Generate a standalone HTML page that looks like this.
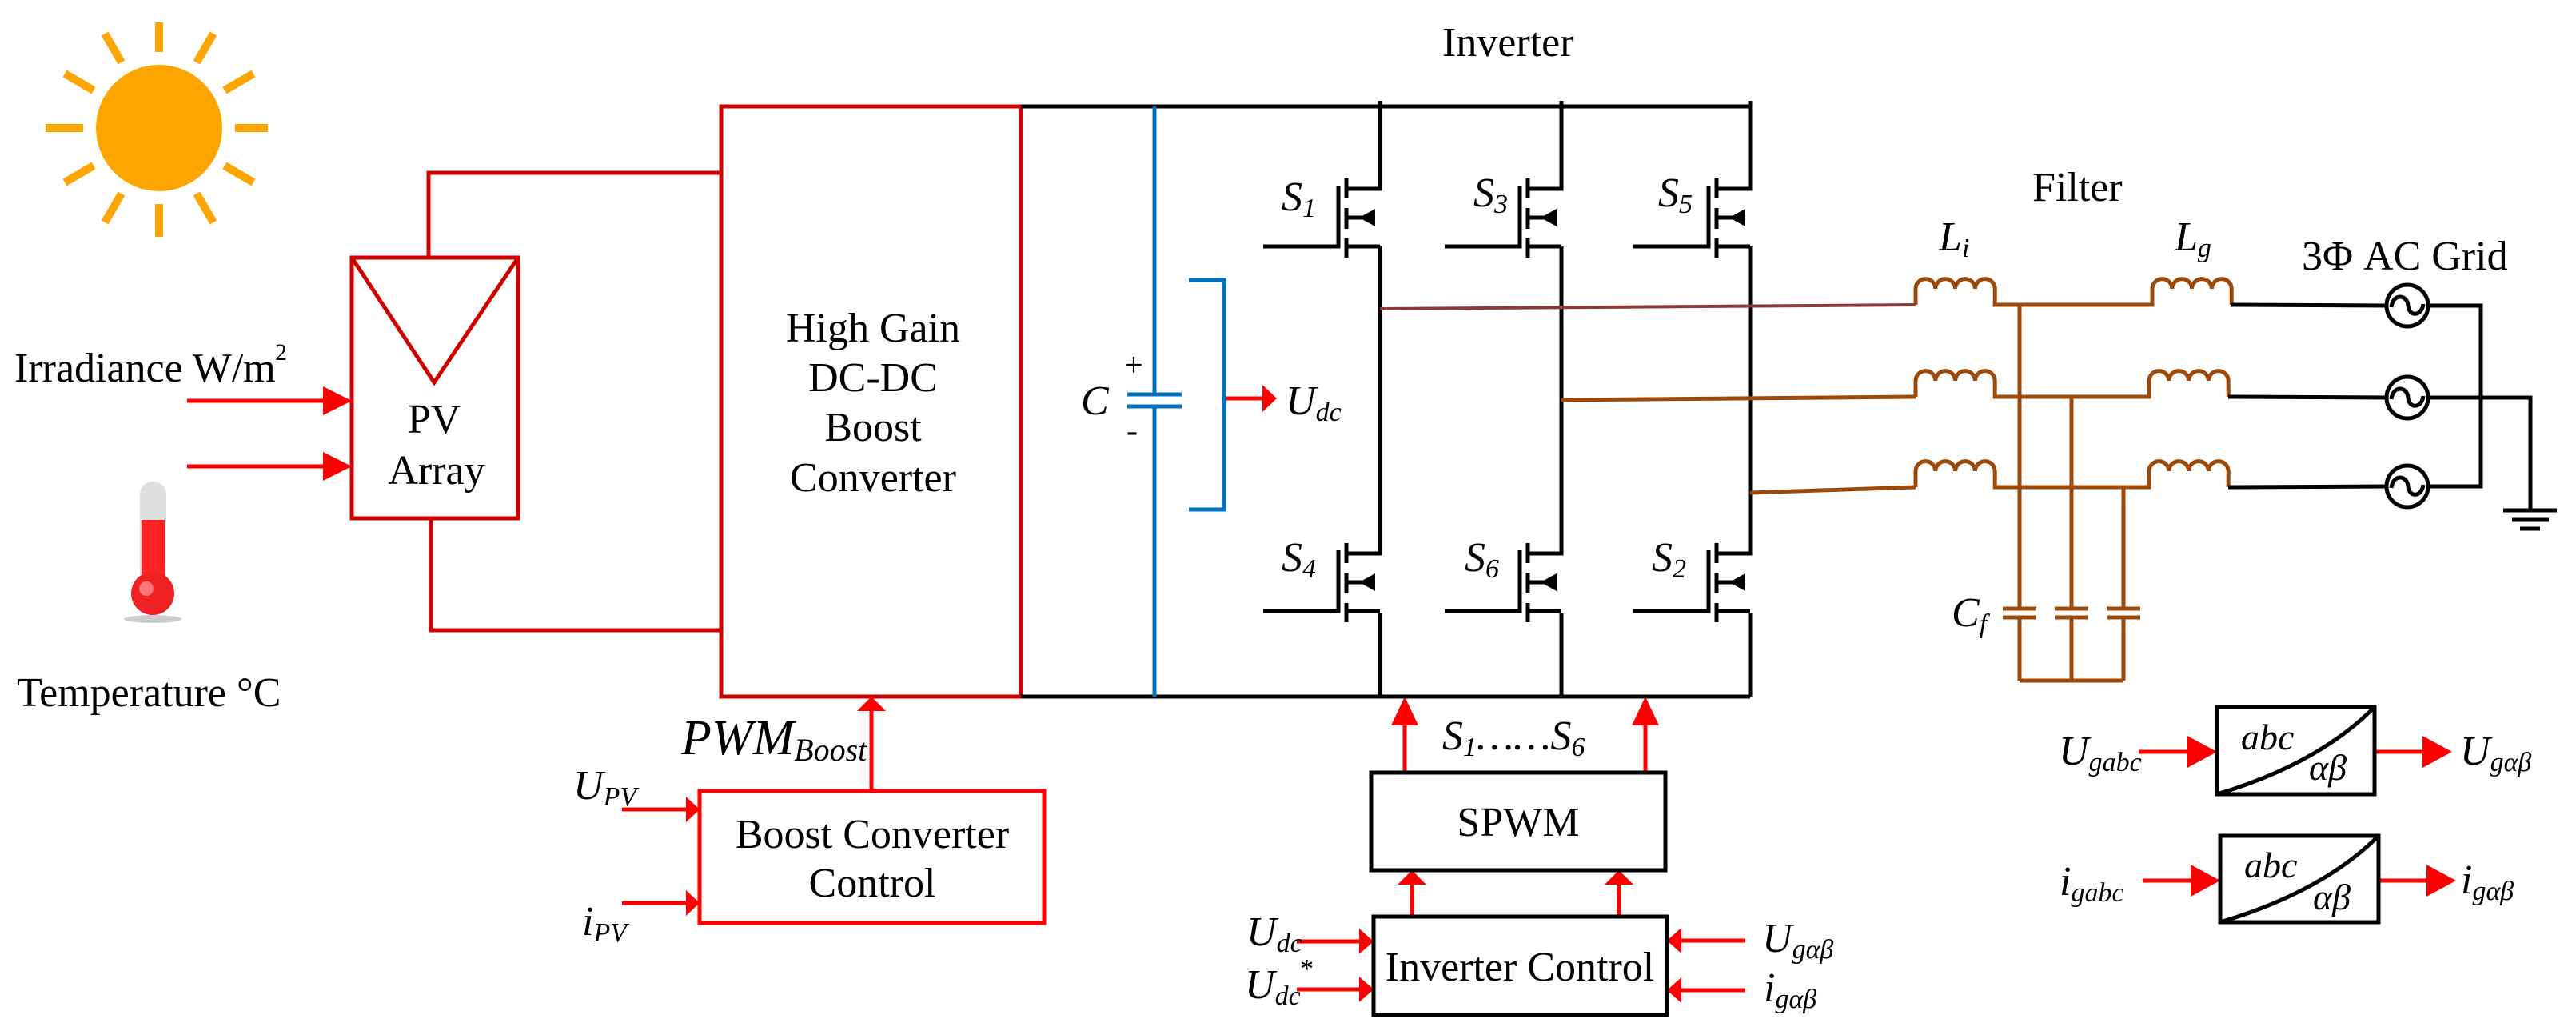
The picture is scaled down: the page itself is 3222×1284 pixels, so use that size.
<!DOCTYPE html>
<html><head><meta charset="utf-8"><style>
html,body{margin:0;padding:0;background:#fff}
svg{display:block}
svg text{font-family:"Liberation Serif","DejaVu Serif",serif;fill:#000}
.i{font-style:italic}
</style></head><body>
<svg width="3222" height="1284" viewBox="0 0 3222 1284" xmlns="http://www.w3.org/2000/svg" font-family="'Liberation Serif', 'DejaVu Serif', serif">
<defs>
<g id="mos">
  <path d="M0,-110 V0 H-42 M-42,72 H0 M-52,-4 V72 H-146" fill="none" stroke="#000" stroke-width="5"/>
  <path d="M-42,-13 V12 M-42,24 V50 M-42,62 V86" stroke="#000" stroke-width="5"/>
  <path d="M-40,36 H-22" stroke="#000" stroke-width="5"/>
  <polygon points="-26,36 -6,25 -6,47" fill="#000"/>
</g>
<g id="src">
  <circle cx="0" cy="0" r="26" fill="#fff" stroke="#000" stroke-width="5"/>
  <path d="M-20,2 C-18,-16 0,-14 1,0 C2,14 18,14 20,-2" fill="none" stroke="#000" stroke-width="5"/>
</g>
</defs>

<circle cx="199" cy="160" r="79" fill="#FFA500"/>
<g stroke="#FFA500" stroke-width="10">
<line x1="294" y1="160" x2="335" y2="160"/>
<line x1="281" y1="207" x2="317" y2="228"/>
<line x1="246" y1="242" x2="267" y2="278"/>
<line x1="199" y1="255" x2="199" y2="296"/>
<line x1="152" y1="242" x2="131" y2="278"/>
<line x1="117" y1="207" x2="81" y2="228"/>
<line x1="104" y1="160" x2="57" y2="160"/>
<line x1="117" y1="113" x2="81" y2="92"/>
<line x1="152" y1="78" x2="131" y2="42"/>
<line x1="199" y1="65" x2="199" y2="28"/>
<line x1="246" y1="78" x2="267" y2="42"/>
<line x1="281" y1="113" x2="317" y2="92"/>
</g>

<ellipse cx="191" cy="774" rx="36" ry="5" fill="#ccc"/>
<rect x="175" y="602" width="33" height="140" rx="16" fill="#e0e0e0"/>
<rect x="177" y="650" width="29" height="95" fill="#f22"/>
<circle cx="191" cy="742" r="27" fill="#ee2222"/>
<circle cx="183" cy="736" r="9" fill="#f77"/>

<g>
<text x="18" y="477" font-size="52">Irradiance W/m</text>
<text x="344" y="450" font-size="30">2</text>
<text x="21" y="883" font-size="52">Temperature °C</text>
</g>

<g fill="none" stroke="#d00000" stroke-width="5">
<rect x="440" y="322" width="208" height="326"/>
<path d="M440,322 L543,478 L648,322"/>
<path d="M536,322 V216 H902 M539,648 V788 H902"/>
<rect x="902" y="133" width="375" height="738"/>
</g>
<g font-size="52" text-anchor="middle">
<text x="543" y="541">PV</text>
<text x="546" y="605">Array</text>
<text x="1092" y="427">High Gain</text>
<text x="1092" y="489">DC-DC</text>
<text x="1092" y="551">Boost</text>
<text x="1092" y="614">Converter</text>
</g>

<g stroke="#f00" stroke-width="5">
<line x1="234" y1="501" x2="410" y2="501"/>
<line x1="234" y1="583" x2="410" y2="583"/>
<line x1="778" y1="1012" x2="862" y2="1012"/>
<line x1="778" y1="1129" x2="862" y2="1129"/>
<line x1="1090" y1="989" x2="1090" y2="885"/>
<line x1="1531" y1="498" x2="1582" y2="498"/>
<line x1="1757" y1="966" x2="1757" y2="900"/>
<line x1="2058" y1="966" x2="2058" y2="900"/>
<line x1="1766" y1="1146" x2="1766" y2="1100"/>
<line x1="2025" y1="1146" x2="2025" y2="1100"/>
<line x1="1622" y1="1177" x2="1704" y2="1177"/>
<line x1="1622" y1="1237" x2="1704" y2="1237"/>
<line x1="2183" y1="1176" x2="2100" y2="1176"/>
<line x1="2183" y1="1238" x2="2100" y2="1238"/>
<line x1="2675" y1="940" x2="2740" y2="940"/>
<line x1="2970" y1="940" x2="3035" y2="940"/>
<line x1="2680" y1="1101" x2="2744" y2="1101"/>
<line x1="2975" y1="1101" x2="3040" y2="1101"/>
</g>
<g fill="#f00">
<polygon points="440,501 404,483 404,519"/>
<polygon points="440,583 404,565 404,601"/>
<polygon points="875,1012 858,996 858,1028"/>
<polygon points="875,1129 858,1113 858,1145"/>
<polygon points="1090,871 1072,889 1108,889"/>
<polygon points="1597,498 1579,481 1579,515"/>
<polygon points="1757,871 1740,907 1774,907"/>
<polygon points="2058,871 2041,907 2075,907"/>
<polygon points="1766,1088 1748,1106 1784,1106"/>
<polygon points="2025,1088 2007,1106 2043,1106"/>
<polygon points="1718,1177 1700,1161 1700,1193"/>
<polygon points="1718,1237 1700,1221 1700,1253"/>
<polygon points="2085,1176 2103,1160 2103,1192"/>
<polygon points="2085,1238 2103,1222 2103,1254"/>
<polygon points="2773,940 2736,920 2736,960"/>
<polygon points="3067,940 3030,920 3030,960"/>
<polygon points="2777,1101 2740,1081 2740,1121"/>
<polygon points="3072,1101 3035,1081 3035,1121"/>
</g>

<rect x="875" y="989" width="431" height="165" fill="none" stroke="#f00" stroke-width="5"/>
<g>
<text x="1091" y="1060" font-size="52" text-anchor="middle">Boost Converter</text>
<text x="1091" y="1121" font-size="52" text-anchor="middle">Control</text>
<text x="852" y="943" font-size="62" class="i">PWM<tspan font-size="40" dy="8">Boost</tspan></text>
<text x="717" y="999" font-size="52" class="i">U<tspan font-size="34" dy="8">PV</tspan></text>
<text x="728" y="1169" font-size="52" class="i">i<tspan font-size="34" dy="8">PV</tspan></text>
</g>

<g fill="none" stroke="#000" stroke-width="5">
<path d="M1277,133 H2189 M1277,871 H2189"/>
<path d="M1726,308 V692 M1726,767 V871 M1953,308 V692 M1953,767 V871 M2189,308 V692 M2189,767 V871"/>
</g>
<g fill="none" stroke="#0070c0" stroke-width="5">
<path d="M1444,133 V493 M1444,508 V871"/>
<path d="M1410,493 H1478 M1410,508 H1478"/>
<path d="M1487,350 H1531 V637 H1487"/>
</g>
<g>
<text x="1352" y="518" font-size="52" class="i">C</text>
<text x="1418" y="470" font-size="42" text-anchor="middle">+</text>
<text x="1416" y="552" font-size="42" text-anchor="middle">-</text>
<text x="1608" y="518" font-size="52" class="i">U<tspan font-size="34" dy="8">dc</tspan></text>
</g>

<use href="#mos" x="1726" y="236"/>
<use href="#mos" x="1953" y="236"/>
<use href="#mos" x="2189" y="236"/>
<use href="#mos" x="1726" y="692"/>
<use href="#mos" x="1953" y="692"/>
<use href="#mos" x="2189" y="692"/>
<g font-size="52" class="i">
<text x="1603" y="263">S<tspan font-size="34" dy="8">1</tspan></text>
<text x="1843" y="258">S<tspan font-size="34" dy="8">3</tspan></text>
<text x="2074" y="258">S<tspan font-size="34" dy="8">5</tspan></text>
<text x="1603" y="714">S<tspan font-size="34" dy="8">4</tspan></text>
<text x="1832" y="714">S<tspan font-size="34" dy="8">6</tspan></text>
<text x="2066" y="714">S<tspan font-size="34" dy="8">2</tspan></text>
<text x="1804" y="937">S<tspan font-size="34" dy="8">1</tspan><tspan dy="-8">……S</tspan><tspan font-size="34" dy="8">6</tspan></text>
</g>
<text x="1804" y="70" font-size="52">Inverter</text>

<rect x="1715" y="966" width="368" height="122" fill="none" stroke="#000" stroke-width="5"/>
<rect x="1718" y="1146" width="367" height="123" fill="none" stroke="#000" stroke-width="5"/>
<g>
<text x="1899" y="1045" font-size="52" text-anchor="middle">SPWM</text>
<text x="1901" y="1226" font-size="52" text-anchor="middle">Inverter Control</text>
<g font-size="52" class="i">
<text x="1559" y="1182">U<tspan font-size="34" dy="8">dc</tspan></text>
<text x="1557" y="1248">U<tspan font-size="34" dy="8">dc</tspan></text>
<text x="2204" y="1190">U<tspan font-size="34" dy="8">gαβ</tspan></text>
<text x="2206" y="1252">i<tspan font-size="34" dy="8">gαβ</tspan></text>
</g>
<text x="1626" y="1222" font-size="34">*</text>
</g>

<path d="M1726,386 L2396,381" stroke="#8B3A3A" stroke-width="4"/>
<g fill="none" stroke="#9C4A0A" stroke-width="5">
<path d="M1953,500 L2396,496 M2189,616 L2396,609"/>
<path d="M2396,381 v-20 a12.4,12.4 0 0 1 24.8,0 a12.4,12.4 0 0 1 24.8,0 a12.4,12.4 0 0 1 24.8,0 a12.4,12.4 0 0 1 24.8,0 v20 H2692 v-20 a12.4,12.4 0 0 1 24.8,0 a12.4,12.4 0 0 1 24.8,0 a12.4,12.4 0 0 1 24.8,0 a12.4,12.4 0 0 1 24.8,0 v20"/>
<path d="M2396,496 v-20 a12.4,12.4 0 0 1 24.8,0 a12.4,12.4 0 0 1 24.8,0 a12.4,12.4 0 0 1 24.8,0 a12.4,12.4 0 0 1 24.8,0 v20 H2688 v-20 a12.4,12.4 0 0 1 24.8,0 a12.4,12.4 0 0 1 24.8,0 a12.4,12.4 0 0 1 24.8,0 a12.4,12.4 0 0 1 24.8,0 v20"/>
<path d="M2396,609 v-20 a12.4,12.4 0 0 1 24.8,0 a12.4,12.4 0 0 1 24.8,0 a12.4,12.4 0 0 1 24.8,0 a12.4,12.4 0 0 1 24.8,0 v20 H2688 v-20 a12.4,12.4 0 0 1 24.8,0 a12.4,12.4 0 0 1 24.8,0 a12.4,12.4 0 0 1 24.8,0 a12.4,12.4 0 0 1 24.8,0 v20"/>
<path d="M2526,381 V761 M2526,772 V851 M2591,496 V761 M2591,772 V851 M2656,609 V761 M2656,772 V851 M2526,851 H2656"/>
<path d="M2505,761 H2547 M2505,772 H2547 M2570,761 H2612 M2570,772 H2612 M2635,761 H2677 M2635,772 H2677"/>
</g>
<g>
<text x="2542" y="251" font-size="52">Filter</text>
<text x="2425" y="313" font-size="52" class="i">L<tspan font-size="34" dy="8">i</tspan></text>
<text x="2720" y="313" font-size="52" class="i">L<tspan font-size="34" dy="8">g</tspan></text>
<text x="2441" y="783" font-size="52" class="i">C<tspan font-size="34" dy="8">f</tspan></text>
<text x="2879" y="337" font-size="52">3Φ AC Grid</text>
</g>

<g fill="none" stroke="#000" stroke-width="5">
<path d="M2791,381 L2985,382 M2787,496 L2985,497 M2787,609 L2985,608"/>
<path d="M3037,382 H3103 V608 H3037 M3037,497 H3165 V638"/>
<path d="M3131,638 H3198 M3142,650 H3188 M3152,661 H3177"/>
</g>
<use href="#src" x="3011" y="382"/>
<use href="#src" x="3011" y="497"/>
<use href="#src" x="3011" y="608"/>

<g fill="none" stroke="#000" stroke-width="5">
<rect x="2773" y="884" width="197" height="109"/>
<path d="M2773,993 Q2900,955 2970,884"/>
<rect x="2777" y="1045" width="198" height="108"/>
<path d="M2777,1153 Q2905,1115 2975,1045"/>
</g>
<g font-size="46" class="i">
<text x="2803" y="937">abc</text>
<text x="2888" y="975">αβ</text>
<text x="2807" y="1097">abc</text>
<text x="2893" y="1137">αβ</text>
</g>
<g font-size="52" class="i">
<text x="2575" y="956">U<tspan font-size="34" dy="8">gabc</tspan></text>
<text x="3077" y="956">U<tspan font-size="34" dy="8">gαβ</tspan></text>
<text x="2576" y="1119">i<tspan font-size="34" dy="8">gabc</tspan></text>
<text x="3078" y="1117">i<tspan font-size="34" dy="8">gαβ</tspan></text>
</g>
</svg>
</body></html>
